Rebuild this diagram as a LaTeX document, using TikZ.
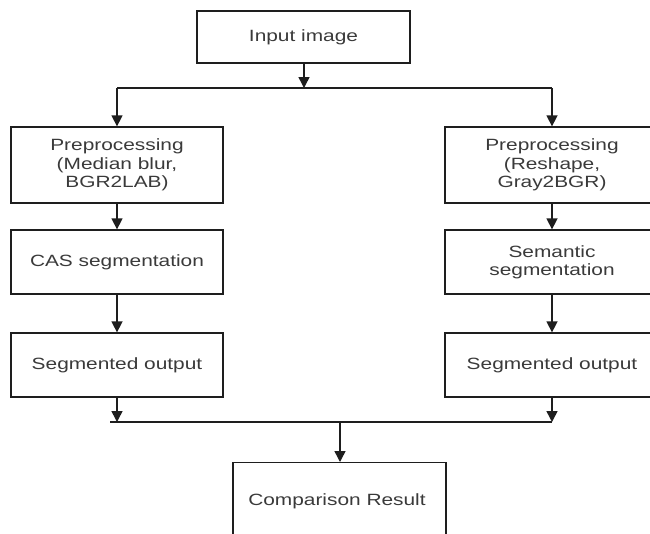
\documentclass[tikz,border=0pt]{standalone}
\usepackage{fontspec}
\setmainfont[FakeStretch=1.28]{Liberation Sans}
\usetikzlibrary{arrows.meta}
\definecolor{txt}{HTML}{3A3A3A}
\definecolor{ln}{HTML}{1E1E1E}
\tikzset{
  box/.style={draw=ln, line width=1.3pt, fill=white, inner sep=0pt, align=center,
    text=txt, font=\fontsize{16.3}{18.3}\selectfont},
  conn/.style={draw=ln, line width=1.5pt},
  arr/.style={conn, -{Triangle[length=11pt,width=11pt]}}
}
\begin{document}
\begin{tikzpicture}[x=1pt,y=-1pt]
\clip (0,0) rectangle (650,533);
\fill[white] (0,0) rectangle (650,533);
% nodes
\node[box, minimum width=213pt, minimum height=52pt] (in) at (303.5,37) {Input image};
\node[box, minimum width=212pt, minimum height=76pt] (lp) at (117,165) {Preprocessing\\(Median blur,\\BGR2LAB)};
\node[box, minimum width=212pt, minimum height=64pt] (lc) at (117,262) {CAS segmentation};
\node[box, minimum width=212pt, minimum height=64pt] (ls) at (117,365) {Segmented output};
\node[box, minimum width=214pt, minimum height=76pt] (rp) at (552,165) {Preprocessing\\(Reshape,\\Gray2BGR)};
\node[box, minimum width=214pt, minimum height=64pt] (rc) at (552,262) {Semantic\\segmentation};
\node[box, minimum width=214pt, minimum height=64pt] (rs) at (552,365) {Segmented output};
\node[box, minimum width=213pt, minimum height=90pt, anchor=north] (cr) at (339.5,462) {};
\node[text=txt, font=\fontsize{16.3}{18.3}\selectfont] (crt) at (337,501) {Comparison Result};
% junction coordinates
\coordinate (tj) at (304,88);
\coordinate (tl) at (117,88);
\coordinate (tr) at (552,88);
\coordinate (bl) at (117,422);
\coordinate (br) at (552,422);
\coordinate (bx) at (110,422);
\coordinate (bc) at (340,422);
% connectors
\draw[arr] (in.south -| tj) -- (tj);
\draw[conn] (tl) -- (tr);
\draw[arr] (tl) -- (lp.north);
\draw[arr] (tr) -- (rp.north);
\draw[arr] (lp.south) -- (lc.north);
\draw[arr] (rp.south) -- (rc.north);
\draw[arr] (lc.south) -- (ls.north);
\draw[arr] (rc.south) -- (rs.north);
\draw[arr] (ls.south) -- (bl);
\draw[arr] (rs.south) -- (br);
\draw[conn] (bx) -- (br);
\draw[arr] (bc) -- (cr.north -| bc);
\end{tikzpicture}
\end{document}
